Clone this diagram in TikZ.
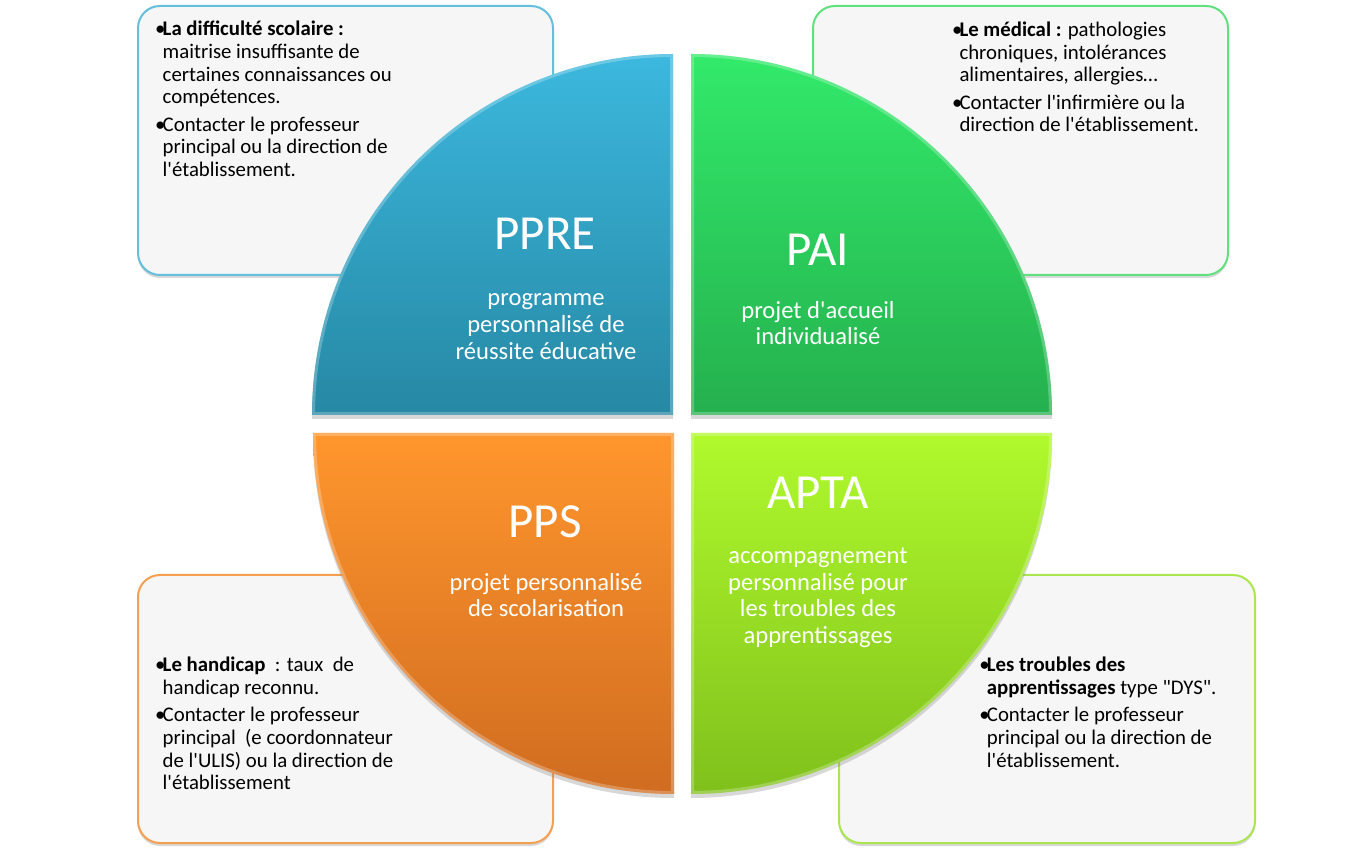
\documentclass[tikz,border=0pt]{standalone}
\usepackage{fontspec}
\setmainfont{Carlito}[Ligatures=TeXOff]
\usetikzlibrary{shadows}
\definecolor{boxfill}{RGB}{246,246,246}
\definecolor{bluebd}{RGB}{100,190,220}
\definecolor{greenbd}{RGB}{95,225,125}
\definecolor{orangebd}{RGB}{245,160,80}
\definecolor{limebd}{RGB}{170,230,80}
\definecolor{ppreTop}{RGB}{60,184,222}
\definecolor{ppreBot}{RGB}{38,136,164}
\definecolor{paiTop}{RGB}{50,234,106}
\definecolor{paiBot}{RGB}{37,176,78}
\definecolor{ppsTop}{RGB}{255,150,45}
\definecolor{ppsBot}{RGB}{208,108,32}
\definecolor{aptaTop}{RGB}{176,250,45}
\definecolor{aptaBot}{RGB}{128,192,28}
\newcommand{\bul}{\llap{\makebox[7.5pt][l]{•}}}
\begin{document}
\begin{tikzpicture}[x=1pt,y=1pt,
  infobox/.style={rounded corners=22pt, fill=boxfill, line width=2pt,
    drop shadow={opacity=0.3, shadow xshift=0pt, shadow yshift=-3pt}},
  boxtext/.style={anchor=base west, align=left, inner sep=0pt,
    font=\fontsize{20.8}{22.7}\selectfont, text=black},
  titletext/.style={anchor=base, inner sep=0pt, text=white,
    font=\fontsize{49}{54}\selectfont},
  subtext/.style={anchor=base, inner sep=0pt, align=center, text=white,
    font=\fontsize{24.6}{26.8}\selectfont},
  sector/.style={drop shadow={opacity=0.3, shadow xshift=0pt, shadow yshift=-4pt}},
  bevel/.style={white, opacity=0.25, line width=6pt}
]
\useasboundingbox (0,0) rectangle (1364,856);
\fill[white] (0,0) rectangle (1364,856);

% info boxes
\draw[infobox, draw=bluebd]   (138,581) rectangle (553,850);
\draw[infobox, draw=greenbd]  (813,581) rectangle (1228,850);
\draw[infobox, draw=orangebd] (138,13)  rectangle (553,281);
\draw[infobox, draw=limebd]   (839,13)  rectangle (1255,281);

% box texts (anchored at the baseline of their last line)
\node[boxtext] (tltext) at (162.5,679.3) {\bul\textbf{La difficulté scolaire :}\\
 maitrise insuffisante de\\ certaines connaissances ou\\ compétences.\\[4.7pt]
 \bul Contacter le professeur\\ principal ou la direction de\\ l'établissement.};
\node[boxtext] (trtext) at (959.3,724) {\bul\textbf{Le médical :} pathologies\\
 chroniques, intolérances\\ alimentaires, allergies…\\[4.7pt]
 \bul Contacter l'infirmière ou la\\ direction de l'établissement.};
\node[boxtext] (bltext) at (162.5,66) {\bul\textbf{Le handicap}\ \ : taux\ \ de\\
 handicap reconnu.\\[4.7pt]
 \bul Contacter le professeur\\ principal\ \ (e coordonnateur\\ de l'ULIS) ou la direction de\\ l'établissement};
\node[boxtext] (brtext) at (986.7,88.7) {\bul\textbf{Les troubles des}\\
 \textbf{apprentissages} type "DYS".\\[4.7pt]
 \bul Contacter le professeur\\ principal ou la direction de\\ l'établissement.};

% sectors
\path[sector, top color=ppreTop, bottom color=ppreBot]
  (673,441) -- (312,441) arc[start angle=180,end angle=90,radius=361] -- cycle;
\begin{scope}
\clip (673,441) -- (312,441) arc[start angle=180,end angle=90,radius=361] -- cycle;
\draw[bevel] (673,441) -- (312,441) arc[start angle=180,end angle=90,radius=361] -- cycle;
\end{scope}

\path[sector, top color=paiTop, bottom color=paiBot]
  (691,441) -- (1052,441) arc[start angle=0,end angle=90,radius=361] -- cycle;
\begin{scope}
\clip (691,441) -- (1052,441) arc[start angle=0,end angle=90,radius=361] -- cycle;
\draw[bevel] (691,441) -- (1052,441) arc[start angle=0,end angle=90,radius=361] -- cycle;
\end{scope}

\path[sector, top color=ppsTop, bottom color=ppsBot]
  (674,423) -- (313,423) arc[start angle=180,end angle=270,radius=361] -- cycle;
\begin{scope}
\clip (674,423) -- (313,423) arc[start angle=180,end angle=270,radius=361] -- cycle;
\draw[bevel] (674,423) -- (313,423) arc[start angle=180,end angle=270,radius=361] -- cycle;
\end{scope}

\path[sector, top color=aptaTop, bottom color=aptaBot]
  (691,423) -- (1052,423) arc[start angle=0,end angle=-90,radius=361] -- cycle;
\begin{scope}
\clip (691,423) -- (1052,423) arc[start angle=0,end angle=-90,radius=361] -- cycle;
\draw[bevel] (691,423) -- (1052,423) arc[start angle=0,end angle=-90,radius=361] -- cycle;
\end{scope}

% sector texts (subtitles anchored at the baseline of their last line)
\node[titletext] (ppre) at (545,606) {PPRE};
\node[subtext] (ppresub) at (546,496.7) {programme\\ personnalisé de\\ réussite éducative};
\node[titletext] (pai) at (818,590) {PAI};
\node[subtext] (paisub) at (818,511) {projet d'accueil\\ individualisé};
\node[titletext] (pps) at (545,318) {PPS};
\node[subtext] (ppssub) at (546,239) {projet personnalisé\\ de scolarisation};
\node[titletext] (apta) at (818,347.7) {APTA};
\node[subtext] (aptasub) at (818,212.3) {accompagnement\\ personnalisé pour\\ les troubles des\\ apprentissages};
\end{tikzpicture}
\end{document}
